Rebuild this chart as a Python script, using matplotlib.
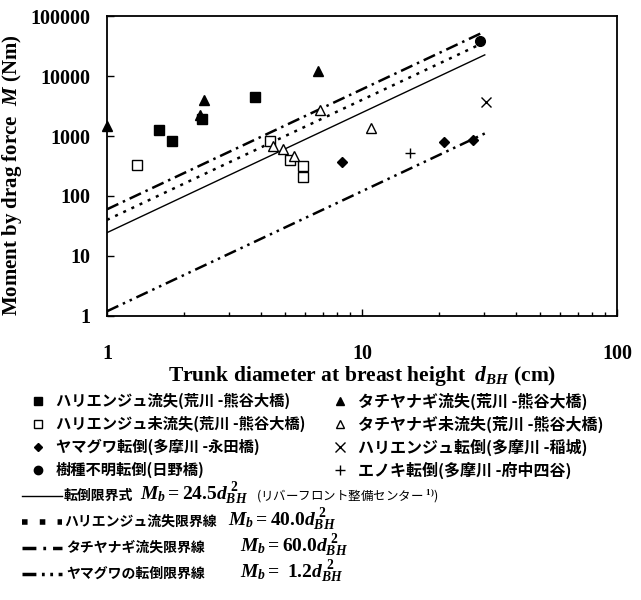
import numpy as np
import matplotlib
matplotlib.use('Agg')
from matplotlib import pyplot as plt
from matplotlib.lines import Line2D

plt.rcParams['mathtext.fontset'] = 'custom'
plt.rcParams['mathtext.rm'] = 'Liberation Serif:bold'
plt.rcParams['mathtext.it'] = 'Liberation Serif:italic:bold'
plt.rcParams['mathtext.bf'] = 'Liberation Serif:bold'

# data (d_BH in cm, M in Nm)
hari_lost_d = [1.60, 1.80, 2.36, 3.80]
hari_lost_m = [1260, 830, 1920, 4470]
hari_kept_d = [1.31, 4.35, 5.22, 5.87, 5.87]
hari_kept_m = [330, 820, 400, 320, 210]
yamaguwa_d = [8.35, 21.0, 27.2]
yamaguwa_m = [370, 800, 860]
unknown_d = [29.0]
unknown_m = [38000]
tachi_lost_d = [1.0, 2.31, 2.40, 6.72]
tachi_lost_m = [1470, 2240, 3980, 12100]
tachi_kept_d = [4.47, 4.90, 5.41, 6.84, 10.85]
tachi_kept_m = [690, 610, 470, 2710, 1360]
hari_fall_d = [30.6]
hari_fall_m = [3700]
enoki_d = [15.4]
enoki_m = [520]

line_coefs = [24.5, 40.0, 60.0, 1.2]
line_styles = ['-', (0, (1.2, 2.4)), (0, (5, 2, 1, 2)), (0, (5, 2, 1, 2, 1, 2))]
line_widths = [1.0, 1.8, 1.8, 1.8]

W, H = 641, 600
fig = plt.figure(figsize=(W / 100, H / 100), dpi=100)
ax = fig.add_axes([107 / W, 1 - 316 / H, 510 / W, 300 / H])

d = np.linspace(1, 30.3, 200)
for c, ls, lw in zip(line_coefs, line_styles, line_widths):
    ax.plot(d, c * d ** 2, color='black', linestyle=ls, linewidth=lw)

ax.plot(hari_lost_d, hari_lost_m, 's', color='black', ms=7)
ax.plot(hari_kept_d, hari_kept_m, 's', mfc='white', mec='black', ms=7, mew=1.0)
ax.plot(yamaguwa_d, yamaguwa_m, 'D', color='black', ms=5)
ax.plot(unknown_d, unknown_m, 'o', color='black', ms=7)
ax.plot(tachi_lost_d, tachi_lost_m, '^', color='black', ms=7, clip_on=False)
ax.plot(tachi_kept_d, tachi_kept_m, '^', mfc='white', mec='black', ms=7, mew=1.0)
ax.plot(hari_fall_d, hari_fall_m, 'x', color='black', ms=7, mew=1.0)
ax.plot(enoki_d, enoki_m, '+', color='black', ms=7, mew=1.0)

ax.set_xscale('log')
ax.set_yscale('log')
ax.set_xlim(1, 100)
ax.set_ylim(1, 100000)
ax.set_xticks([1, 10, 100])
ax.set_xticklabels(['1', '10', '100'])
ax.set_yticks([1, 10, 100, 1000, 10000, 100000])
ax.set_yticklabels(['1', '10', '100', '1000', '10000', '100000'])
ax.yaxis.set_minor_locator(matplotlib.ticker.NullLocator())
ax.tick_params(which='both', direction='in', width=1.0)
ax.tick_params(which='major', length=5)
ax.tick_params(which='minor', length=3)
ax.tick_params(axis='x', which='major', pad=20)
ax.tick_params(axis='y', which='major', pad=12)
for lab in ax.get_xticklabels() + ax.get_yticklabels():
    lab.set_fontfamily('Liberation Serif')
    lab.set_fontweight('bold')
    lab.set_fontsize(14.5)
for s in ax.spines.values():
    s.set_linewidth(1.3)

ax.set_xlabel('Trunk diameter at breast height  $d_{BH}$ (cm)', fontfamily='Liberation Serif',
              fontweight='bold', fontsize=15.5, labelpad=0)
ax.set_ylabel('Moment by drag force  $M$ (Nm)', fontfamily='Liberation Serif',
              fontweight='bold', fontsize=15)
ax.yaxis.set_label_coords(-0.163, 0.47)

jp = ['Noto Sans CJK JP', 'DejaVu Sans']


def fx(x):
    return x / W


def fy(y):
    return 1 - y / H


# marker legend
marker_items = [
    (38, 401, dict(marker='s', color='black', ms=6), 'ハリエンジュ流失(荒川 -熊谷大橋)'),
    (38, 424, dict(marker='s', mfc='white', mec='black', ms=6), 'ハリエンジュ未流失(荒川 -熊谷大橋)'),
    (38, 447, dict(marker='D', color='black', ms=4.5), 'ヤマグワ転倒(多摩川 -永田橋)'),
    (38, 470, dict(marker='o', color='black', ms=6), '樹種不明転倒(日野橋)'),
    (340, 401, dict(marker='^', color='black', ms=6), 'タチヤナギ流失(荒川 -熊谷大橋)'),
    (340, 424, dict(marker='^', mfc='white', mec='black', ms=6), 'タチヤナギ未流失(荒川 -熊谷大橋)'),
    (340, 447, dict(marker='x', color='black', ms=7, mew=1.0), 'ハリエンジュ転倒(多摩川 -稲城)'),
    (340, 470, dict(marker='+', color='black', ms=7, mew=1.0), 'エノキ転倒(多摩川 -府中四谷)'),
]
for x, y, kw, label in marker_items:
    fig.add_artist(Line2D([fx(x)], [fy(y)], linestyle='none', transform=fig.transFigure, **kw))
    size = 11 if x < 200 else 11.5
    fig.text(fx(x + 18), fy(y), label, family=jp, fontweight='bold', fontsize=size, va='center')

# line legend
line_rows = [496, 522, 548, 574]
line_text_x = [64, 64, 66, 66]
legend_styles = ['-', (0, (1, 2.2)), (0, (4, 2, 0.8, 2)), (0, (4, 1.6, 0.8, 1.6, 0.8, 1.6))]
legend_widths = [1.0, 4.0, 2.5, 2.5]
line_texts = ['転倒限界式', 'ハリエンジュ流失限界線', 'タチヤナギ流失限界線', 'ヤマグワの転倒限界線']
line_math = [r'$M_b\mathbf{=24.5}d_{BH}^{\ 2}$', r'$M_b\mathbf{=40.0}d_{BH}^{\ 2}$',
             r'$M_b\mathbf{=60.0}d_{BH}^{\ 2}$', r'$M_b\mathbf{=\ 1.2}d_{BH}^{\ 2}$']
math_x = [140, 228, 240, 240]
for y, tx, ls, lw, txt, mt, mx in zip(line_rows, line_text_x, legend_styles,
                                      legend_widths, line_texts, line_math, math_x):
    fig.add_artist(Line2D([fx(22), fx(62)], [fy(y), fy(y)], color='black', linestyle=ls,
                          linewidth=lw, transform=fig.transFigure))
    fig.text(fx(tx), fy(y), txt, family=jp, fontweight='bold', fontsize=10, va='center')
    fig.text(fx(mx), fy(y - 2), mt, fontsize=14, va='center')
fig.text(fx(256), fy(496), '(リバーフロント整備センター $^{1)}$)', family=jp, fontsize=9, va='center')

fig.savefig('out.png', dpi=100)
